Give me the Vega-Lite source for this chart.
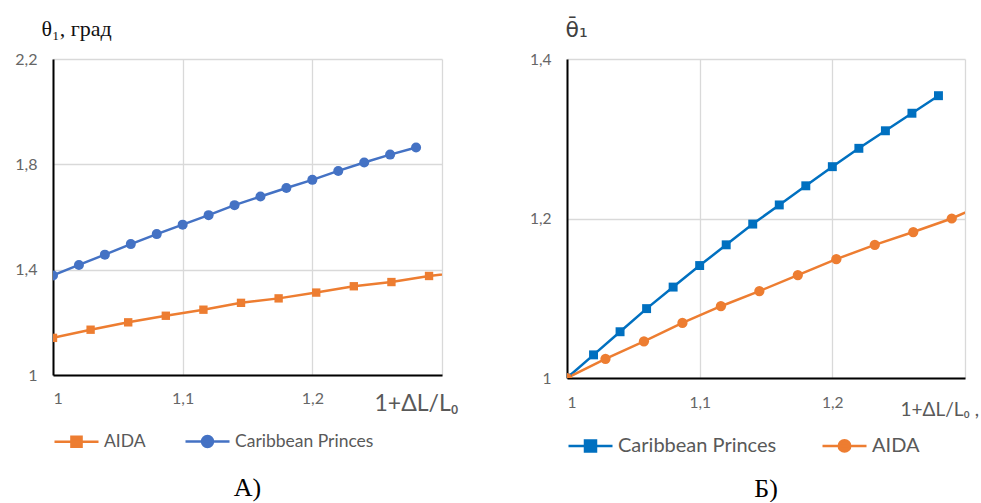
{
  "$schema": "https://vega.github.io/schema/vega-lite/v6.json",
  "background": "#ffffff",
  "padding": {"left": 14, "top": 17, "right": 0, "bottom": 0},
  "config": {
    "view": {"stroke": null},
    "axis": {"labelFont": "Lato", "labelColor": "#666666", "gridColor": "#d9d9d9", "gridWidth": 1.3, "ticks": false, "domainColor": "#000000", "domainWidth": 2, "labelPadding": 14},
    "legend": {"labelFont": "Lato", "labelColor": "#595959"}
  },
  "spacing": 71,
  "data": {"values": [
    {"panel": "A", "ship": "AIDA", "x": 1.000, "y": 1.141},
    {"panel": "A", "ship": "AIDA", "x": 1.029, "y": 1.172},
    {"panel": "A", "ship": "AIDA", "x": 1.058, "y": 1.200},
    {"panel": "A", "ship": "AIDA", "x": 1.087, "y": 1.225},
    {"panel": "A", "ship": "AIDA", "x": 1.116, "y": 1.248},
    {"panel": "A", "ship": "AIDA", "x": 1.145, "y": 1.274},
    {"panel": "A", "ship": "AIDA", "x": 1.174, "y": 1.291},
    {"panel": "A", "ship": "AIDA", "x": 1.203, "y": 1.313},
    {"panel": "A", "ship": "AIDA", "x": 1.232, "y": 1.337},
    {"panel": "A", "ship": "AIDA", "x": 1.261, "y": 1.353},
    {"panel": "A", "ship": "AIDA", "x": 1.290, "y": 1.376},
    {"panel": "A", "ship": "AIDA", "x": 1.319, "y": 1.393},
    {"panel": "A", "ship": "Caribbean Princes", "x": 1.00, "y": 1.378},
    {"panel": "A", "ship": "Caribbean Princes", "x": 1.02, "y": 1.418},
    {"panel": "A", "ship": "Caribbean Princes", "x": 1.04, "y": 1.457},
    {"panel": "A", "ship": "Caribbean Princes", "x": 1.06, "y": 1.497},
    {"panel": "A", "ship": "Caribbean Princes", "x": 1.08, "y": 1.535},
    {"panel": "A", "ship": "Caribbean Princes", "x": 1.10, "y": 1.571},
    {"panel": "A", "ship": "Caribbean Princes", "x": 1.12, "y": 1.607},
    {"panel": "A", "ship": "Caribbean Princes", "x": 1.14, "y": 1.645},
    {"panel": "A", "ship": "Caribbean Princes", "x": 1.16, "y": 1.678},
    {"panel": "A", "ship": "Caribbean Princes", "x": 1.18, "y": 1.710},
    {"panel": "A", "ship": "Caribbean Princes", "x": 1.20, "y": 1.741},
    {"panel": "A", "ship": "Caribbean Princes", "x": 1.22, "y": 1.775},
    {"panel": "A", "ship": "Caribbean Princes", "x": 1.24, "y": 1.807},
    {"panel": "A", "ship": "Caribbean Princes", "x": 1.26, "y": 1.837},
    {"panel": "A", "ship": "Caribbean Princes", "x": 1.28, "y": 1.864},
    {"panel": "B", "ship": "Caribbean Princes", "x": 1.00, "y": 1.000},
    {"panel": "B", "ship": "Caribbean Princes", "x": 1.02, "y": 1.029},
    {"panel": "B", "ship": "Caribbean Princes", "x": 1.04, "y": 1.058},
    {"panel": "B", "ship": "Caribbean Princes", "x": 1.06, "y": 1.087},
    {"panel": "B", "ship": "Caribbean Princes", "x": 1.08, "y": 1.114},
    {"panel": "B", "ship": "Caribbean Princes", "x": 1.10, "y": 1.141},
    {"panel": "B", "ship": "Caribbean Princes", "x": 1.12, "y": 1.167},
    {"panel": "B", "ship": "Caribbean Princes", "x": 1.14, "y": 1.193},
    {"panel": "B", "ship": "Caribbean Princes", "x": 1.16, "y": 1.217},
    {"panel": "B", "ship": "Caribbean Princes", "x": 1.18, "y": 1.241},
    {"panel": "B", "ship": "Caribbean Princes", "x": 1.20, "y": 1.265},
    {"panel": "B", "ship": "Caribbean Princes", "x": 1.22, "y": 1.288},
    {"panel": "B", "ship": "Caribbean Princes", "x": 1.24, "y": 1.310},
    {"panel": "B", "ship": "Caribbean Princes", "x": 1.26, "y": 1.332},
    {"panel": "B", "ship": "Caribbean Princes", "x": 1.28, "y": 1.354},
    {"panel": "B", "ship": "AIDA", "x": 1.000, "y": 1.000},
    {"panel": "B", "ship": "AIDA", "x": 1.029, "y": 1.024},
    {"panel": "B", "ship": "AIDA", "x": 1.058, "y": 1.046},
    {"panel": "B", "ship": "AIDA", "x": 1.087, "y": 1.069},
    {"panel": "B", "ship": "AIDA", "x": 1.116, "y": 1.090},
    {"panel": "B", "ship": "AIDA", "x": 1.145, "y": 1.109},
    {"panel": "B", "ship": "AIDA", "x": 1.174, "y": 1.129},
    {"panel": "B", "ship": "AIDA", "x": 1.203, "y": 1.149},
    {"panel": "B", "ship": "AIDA", "x": 1.232, "y": 1.167},
    {"panel": "B", "ship": "AIDA", "x": 1.261, "y": 1.183},
    {"panel": "B", "ship": "AIDA", "x": 1.290, "y": 1.200},
    {"panel": "B", "ship": "AIDA", "x": 1.319, "y": 1.221}
  ]},
  "hconcat": [
    {
      "width": 389,
      "height": 316,
      "title": {"text": "A)", "orient": "bottom", "anchor": "middle", "font": "Liberation Serif", "fontSize": 26, "fontWeight": "normal", "color": "#000000", "offset": 23},
      "transform": [{"filter": "datum.panel === 'A'"}],
      "encoding": {
        "x": {"field": "x", "type": "quantitative", "scale": {"domain": [1, 1.3], "nice": false, "zero": false},
          "axis": {"values": [1, 1.1, 1.2, 1.3], "labelExpr": "datum.value > 1.25 ? '' : replace(format(datum.value, '~g'), '.', ',')", "labelFontSize": 16, "labelPadding": 15,
            "title": "1+ΔL/L₀", "titleFont": "Lato", "titleFontSize": 23, "titleFontWeight": "normal", "titleColor": "#595959", "titleAlign": "left", "titleBaseline": "alphabetic", "titleX": 321, "titleY": 35}},
        "y": {"field": "y", "type": "quantitative", "scale": {"domain": [1, 2.2], "nice": false, "zero": false},
          "axis": {"values": [1, 1.4, 1.8, 2.2], "labelExpr": "replace(format(datum.value, '~g'), '.', ',')", "labelFontSize": 16, "labelPadding": 16,
            "title": "θ₁, град", "titleFont": "Liberation Serif", "titleFontSize": 22, "titleFontWeight": "normal", "titleColor": "#111111", "titleAngle": 0, "titleAlign": "left", "titleBaseline": "alphabetic", "titleX": -12, "titleY": -24}},
        "color": {"field": "ship", "type": "nominal", "scale": {"domain": ["AIDA", "Caribbean Princes"], "range": ["#ed7d31", "#4472c4"]},
          "legend": {"orient": "bottom", "direction": "horizontal", "title": null, "symbolSize": 1936, "symbolStrokeWidth": 2.5, "labelFontSize": 17.5, "labelOffset": 4, "columnPadding": 34, "offset": 3,
            "encode": {"symbols": {"update": {
              "shape": {"signal": "datum.value === 'AIDA' ? 'M-1,0H1M-0.23,-0.23H0.23V0.23H-0.23Z' : 'M-1,0H1M-0.25,0A0.25,0.25,0,1,1,0.25,0A0.25,0.25,0,1,1,-0.25,0Z'"},
              "size": {"value": 1936},
              "fill": {"signal": "datum.value === 'AIDA' ? '#ed7d31' : '#4472c4'"},
              "stroke": {"signal": "datum.value === 'AIDA' ? '#ed7d31' : '#4472c4'"},
              "strokeWidth": {"value": 2.5},
              "opacity": {"value": 1},
              "fillOpacity": {"value": 1},
              "strokeOpacity": {"value": 1}
            }}}}}
      },
      "layer": [
        {"mark": {"type": "line", "strokeWidth": 2.5, "clip": true}},
        {"transform": [{"filter": "datum.ship === 'AIDA'"}],
          "mark": {"type": "point", "shape": "square", "size": 70, "filled": true, "opacity": 1, "clip": true}},
        {"transform": [{"filter": "datum.ship === 'Caribbean Princes'"}],
          "mark": {"type": "point", "shape": "circle", "size": 100, "filled": true, "opacity": 1, "clip": true}}
      ]
    },
    {
      "width": 398,
      "height": 319,
      "title": {"text": "Б)", "orient": "bottom", "anchor": "middle", "font": "Liberation Serif", "fontSize": 26, "fontWeight": "normal", "color": "#000000", "offset": 19},
      "transform": [{"filter": "datum.panel === 'B'"}],
      "encoding": {
        "x": {"field": "x", "type": "quantitative", "scale": {"domain": [1, 1.3], "nice": false, "zero": false},
          "axis": {"values": [1, 1.1, 1.2, 1.3], "labelExpr": "datum.value > 1.25 ? '' : replace(format(datum.value, '~g'), '.', ',')", "labelFontSize": 15.5, "labelPadding": 17,
            "title": "1+ΔL/L₀ ,", "titleFont": "Lato", "titleFontSize": 19, "titleFontWeight": "normal", "titleColor": "#595959", "titleAlign": "left", "titleBaseline": "alphabetic", "titleX": 333, "titleY": 37}},
        "y": {"field": "y", "type": "quantitative", "scale": {"domain": [1, 1.4], "nice": false, "zero": false},
          "axis": {"values": [1, 1.2, 1.4], "labelExpr": "replace(format(datum.value, '~g'), '.', ',')", "labelFontSize": 15.5, "labelPadding": 16,
            "title": "θ̄₁", "titleFont": "DejaVu Sans", "titleFontSize": 22, "titleFontWeight": "normal", "titleColor": "#404040", "titleAngle": 0, "titleAlign": "left", "titleBaseline": "alphabetic", "titleX": -2, "titleY": -23}},
        "color": {"field": "ship", "type": "nominal", "scale": {"domain": ["Caribbean Princes", "AIDA"], "range": ["#0070c0", "#ed7d31"]},
          "legend": {"orient": "bottom", "direction": "horizontal", "title": null, "symbolSize": 1936, "symbolStrokeWidth": 2.5, "labelFontSize": 20, "labelOffset": 4, "columnPadding": 40, "offset": 3,
            "encode": {"symbols": {"update": {
              "shape": {"signal": "datum.value === 'AIDA' ? 'M-1,0H1M-0.26,0A0.26,0.26,0,1,1,0.26,0A0.26,0.26,0,1,1,-0.26,0Z' : 'M-1,0H1M-0.25,-0.25H0.25V0.25H-0.25Z'"},
              "size": {"value": 1936},
              "fill": {"signal": "datum.value === 'AIDA' ? '#ed7d31' : '#0070c0'"},
              "stroke": {"signal": "datum.value === 'AIDA' ? '#ed7d31' : '#0070c0'"},
              "strokeWidth": {"value": 2.5},
              "opacity": {"value": 1},
              "fillOpacity": {"value": 1},
              "strokeOpacity": {"value": 1}
            }}}}}
      },
      "layer": [
        {"mark": {"type": "line", "strokeWidth": 2.5, "clip": true}},
        {"transform": [{"filter": "datum.ship === 'Caribbean Princes'"}],
          "mark": {"type": "point", "shape": "square", "size": 80, "filled": true, "opacity": 1, "clip": true}},
        {"transform": [{"filter": "datum.ship === 'AIDA'"}],
          "mark": {"type": "point", "shape": "circle", "size": 105, "filled": true, "opacity": 1, "clip": true}}
      ]
    }
  ],
  "resolve": {"scale": {"x": "independent", "y": "independent", "color": "independent"}, "legend": {"color": "independent"}}
}
